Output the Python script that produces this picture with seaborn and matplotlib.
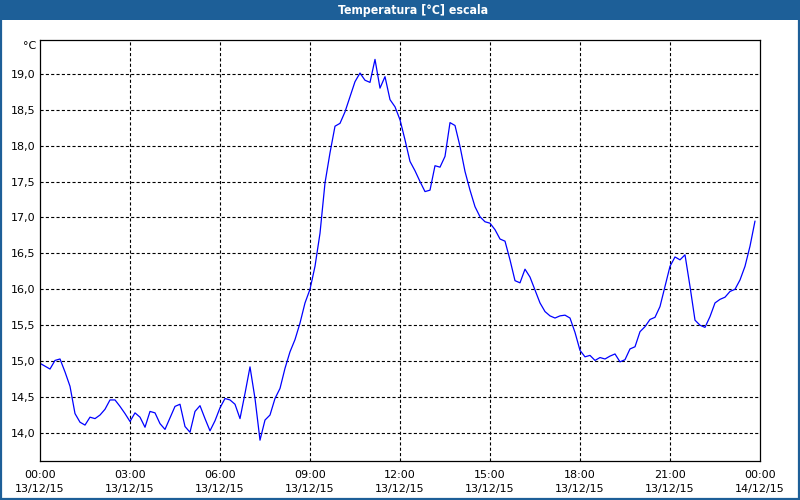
import matplotlib
matplotlib.use("Agg")
import matplotlib.pyplot as plt
import matplotlib.ticker as mticker
from matplotlib.patches import Rectangle
import numpy as np
import pandas as pd
import seaborn as sns

# ---- data (10-minute samples from 00:00 on 13/12/15) ----
minutes = list(range(0, 1440, 10))
temperature = [
    14.97, 14.93, 14.89, 15.01, 15.03, 14.85, 14.65, 14.27, 14.15, 14.11,
    14.22, 14.20, 14.25, 14.33, 14.46, 14.46, 14.37, 14.27, 14.16, 14.28,
    14.22, 14.08, 14.30, 14.28, 14.13, 14.05, 14.21, 14.37, 14.40, 14.09,
    14.01, 14.30, 14.38, 14.20, 14.03, 14.17, 14.35, 14.48, 14.46, 14.40,
    14.20, 14.55, 14.92, 14.48, 13.90, 14.18, 14.25, 14.48, 14.62, 14.90,
    15.13, 15.30, 15.53, 15.81, 16.00, 16.32, 16.78, 17.48, 17.90, 18.27,
    18.31, 18.47, 18.68, 18.89, 19.01, 18.91, 18.88, 19.20, 18.80, 18.96,
    18.64, 18.54, 18.36, 18.08, 17.78, 17.65, 17.50, 17.36, 17.38, 17.72,
    17.70, 17.85, 18.32, 18.28, 17.99, 17.64, 17.38, 17.15, 17.01, 16.94,
    16.92, 16.83, 16.70, 16.67, 16.41, 16.12, 16.09, 16.28, 16.17, 15.99,
    15.81, 15.69, 15.63, 15.60, 15.63, 15.64, 15.60, 15.40, 15.15, 15.06,
    15.08, 15.01, 15.05, 15.03, 15.07, 15.10, 14.99, 15.02, 15.17, 15.20,
    15.41, 15.48, 15.58, 15.61, 15.76, 16.04, 16.32, 16.45, 16.41, 16.48,
    16.04, 15.57, 15.50, 15.47, 15.62, 15.81, 15.86, 15.89, 15.97, 16.00,
    16.13, 16.32, 16.60, 16.95,
]
tick_hours = [0, 3, 6, 9, 12, 15, 18, 21, 24]
tick_labels = ["00:00\n13/12/15", "03:00\n13/12/15", "06:00\n13/12/15",
               "09:00\n13/12/15", "12:00\n13/12/15", "15:00\n13/12/15",
               "18:00\n13/12/15", "21:00\n13/12/15", "00:00\n14/12/15"]
y_ticks = [14.0, 14.5, 15.0, 15.5, 16.0, 16.5, 17.0, 17.5, 18.0, 18.5, 19.0]
title = "Temperatura [°C] escala"
unit = "°C"

df = pd.DataFrame({"hour": np.array(minutes) / 60.0, "temp": temperature})

sns.set_style("white")
plt.rcParams["font.family"] = ["DejaVu Sans"]

fig = plt.figure(figsize=(8, 5), dpi=100, facecolor="white")
ax = fig.add_axes([0.05, 0.078, 0.90, 0.842])

sns.lineplot(data=df, x="hour", y="temp", ax=ax, color="#0000ff",
             linewidth=0.9, legend=False)

ax.set_xlim(0, 24)
ax.set_ylim(13.61, 19.47)
ax.set_xticks(tick_hours)
ax.set_xticklabels(tick_labels, linespacing=1.55)
ax.xaxis.set_minor_locator(mticker.MultipleLocator(1))
ax.set_yticks(y_ticks)
ax.set_yticklabels([f"{v:.1f}".replace(".", ",") for v in y_ticks])
ax.set_xlabel("")
ax.set_ylabel("")

ax.tick_params(axis="x", which="both", direction="out", length=3.5,
               width=0.8, color="black", labelsize=8, pad=3,
               labelcolor="black")
ax.tick_params(axis="y", which="both", length=0, labelsize=8, pad=3.5,
               labelcolor="black")

ax.grid(False)
for h in tick_hours[1:-1]:
    ax.axvline(h, color="black", linewidth=0.8, linestyle=(0, (2.8, 2.0)),
               zorder=1)
for v in y_ticks:
    ax.axhline(v, color="black", linewidth=0.8, linestyle=(0, (2.8, 2.0)),
               zorder=1)

for s in ax.spines.values():
    s.set_visible(True)
    s.set_color("black")
    s.set_linewidth(0.9)

ax.text(-0.005, 0.985, unit, transform=ax.transAxes, ha="right", va="center",
        fontsize=8, color="black")

# window title bar and frame
blue = "#1d5f98"
fig.patches.append(Rectangle((0, 0.96), 1, 0.04, transform=fig.transFigure,
                             facecolor=blue, edgecolor="none", zorder=0))
fig.patches.append(Rectangle((0.0012, 0.002), 0.9976, 0.996,
                             transform=fig.transFigure, facecolor="none",
                             edgecolor=blue, linewidth=1.6, zorder=0))
fig.text(0.516, 0.979, title, ha="center", va="center", color="white",
         fontsize=8.8, fontweight="bold", fontstretch="condensed",
         family=["DejaVu Sans"])

fig.savefig("out.png", dpi=100, facecolor="white")
